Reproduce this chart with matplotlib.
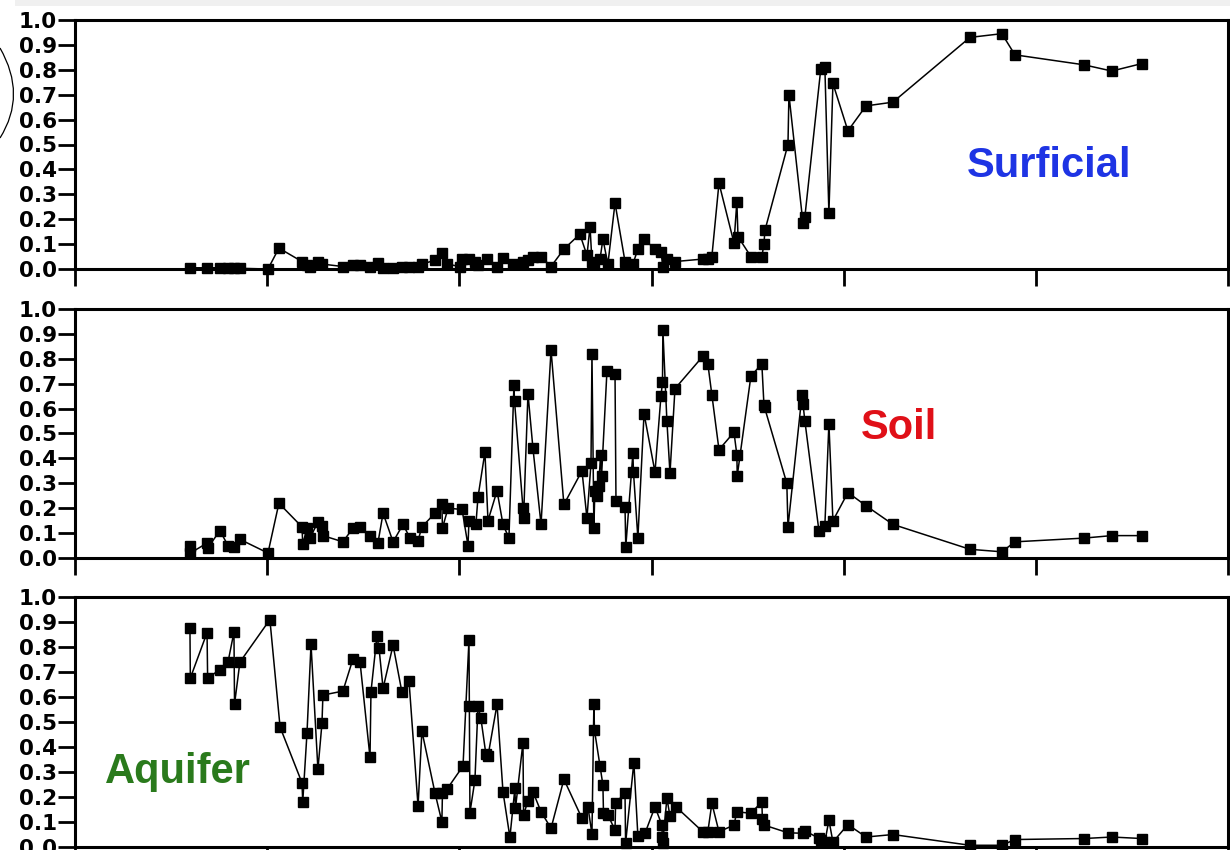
import matplotlib.pyplot as plt
from matplotlib.patches import Rectangle, PathPatch
from matplotlib.path import Path

# sample positions (x in tick units) and fractions
x_surf = [0.598, 0.687, 0.754, 0.796, 0.827, 0.858, 1.004, 1.061, 1.181, 1.207,
          1.223, 1.264, 1.285, 1.394, 1.446, 1.483, 1.535, 1.576, 1.603, 1.655,
          1.701, 1.738, 1.785, 1.805, 1.873, 1.909, 1.935, 2.003, 2.014, 2.050,
          2.081, 2.097, 2.144, 2.196, 2.227, 2.279, 2.331, 2.357, 2.383, 2.425,
          2.477, 2.544, 2.627, 2.664, 2.680, 2.690, 2.700, 2.732, 2.747, 2.773,
          2.810, 2.862, 2.903, 2.929, 2.961, 3.018, 3.049, 3.059, 3.080, 3.122,
          3.267, 3.293, 3.314, 3.351, 3.429, 3.444, 3.450, 3.517, 3.574, 3.585,
          3.590, 3.710, 3.715, 3.788, 3.798, 3.881, 3.902, 3.923, 3.944, 4.022,
          4.116, 4.256, 4.657, 4.823, 4.891, 5.250, 5.395, 5.552]
y_surf = [0.005, 0.005, 0.005, 0.005, 0.003, 0.003, 0.0, 0.084, 0.03, 0.015,
          0.01, 0.03, 0.02, 0.01, 0.015, 0.015, 0.01, 0.025, 0.005, 0.005,
          0.01, 0.01, 0.01, 0.02, 0.035, 0.065, 0.02, 0.01, 0.04, 0.04,
          0.03, 0.015, 0.04, 0.01, 0.045, 0.02, 0.03, 0.035, 0.05, 0.05,
          0.01, 0.08, 0.14, 0.055, 0.17, 0.03, 0.02, 0.04, 0.12, 0.02,
          0.265, 0.03, 0.02, 0.08, 0.12, 0.08, 0.07, 0.01, 0.04, 0.03,
          0.04, 0.04, 0.05, 0.345, 0.105, 0.27, 0.13, 0.05, 0.05, 0.10,
          0.155, 0.50, 0.70, 0.185, 0.21, 0.805, 0.81, 0.225, 0.745, 0.555,
          0.655, 0.67, 0.93, 0.945, 0.86, 0.82, 0.795, 0.825]

x_soil = [0.598, 0.600, 0.687, 0.690, 0.754, 0.796, 0.827, 0.858, 1.004, 1.061,
          1.181, 1.185, 1.207, 1.223, 1.264, 1.285, 1.290, 1.394, 1.446, 1.483,
          1.535, 1.576, 1.603, 1.655, 1.707, 1.743, 1.785, 1.805, 1.873, 1.909,
          1.912, 1.941, 2.014, 2.045, 2.050, 2.086, 2.097, 2.133, 2.149, 2.196,
          2.227, 2.258, 2.284, 2.287, 2.331, 2.334, 2.357, 2.383, 2.425, 2.477,
          2.544, 2.638, 2.664, 2.685, 2.690, 2.700, 2.705, 2.715, 2.725, 2.735,
          2.740, 2.768, 2.810, 2.815, 2.862, 2.866, 2.903, 2.906, 2.929, 2.961,
          3.018, 3.049, 3.057, 3.059, 3.080, 3.096, 3.122, 3.267, 3.293, 3.314,
          3.351, 3.429, 3.444, 3.446, 3.517, 3.574, 3.585, 3.588, 3.704, 3.710,
          3.783, 3.788, 3.798, 3.871, 3.902, 3.923, 3.944, 4.022, 4.116, 4.256,
          4.657, 4.823, 4.891, 5.250, 5.395, 5.552]
y_soil = [0.05, 0.02, 0.06, 0.04, 0.11, 0.05, 0.045, 0.075, 0.02, 0.22,
          0.125, 0.055, 0.12, 0.08, 0.145, 0.13, 0.09, 0.065, 0.12, 0.125,
          0.09, 0.06, 0.18, 0.065, 0.135, 0.08, 0.07, 0.125, 0.18, 0.215,
          0.12, 0.20, 0.195, 0.05, 0.15, 0.135, 0.245, 0.425, 0.15, 0.27,
          0.135, 0.08, 0.695, 0.63, 0.20, 0.16, 0.66, 0.44, 0.135, 0.835,
          0.215, 0.35, 0.16, 0.38, 0.82, 0.12, 0.27, 0.25, 0.29, 0.415,
          0.33, 0.75, 0.74, 0.23, 0.205, 0.045, 0.42, 0.345, 0.08, 0.58,
          0.345, 0.65, 0.705, 0.917, 0.55, 0.34, 0.68, 0.81, 0.78, 0.655,
          0.435, 0.505, 0.415, 0.33, 0.73, 0.78, 0.615, 0.605, 0.30, 0.125,
          0.655, 0.62, 0.55, 0.11, 0.13, 0.54, 0.15, 0.263, 0.21, 0.135,
          0.035, 0.025, 0.065, 0.08, 0.09, 0.09]

x_aq = [0.598, 0.600, 0.687, 0.690, 0.754, 0.796, 0.827, 0.830, 0.858, 1.014,
        1.067, 1.181, 1.185, 1.207, 1.228, 1.264, 1.285, 1.290, 1.394, 1.446,
        1.483, 1.535, 1.540, 1.571, 1.582, 1.603, 1.655, 1.701, 1.738, 1.785,
        1.805, 1.873, 1.909, 1.912, 1.935, 2.019, 2.050, 2.052, 2.055, 2.081,
        2.097, 2.112, 2.138, 2.149, 2.196, 2.227, 2.263, 2.289, 2.292, 2.331,
        2.334, 2.357, 2.383, 2.425, 2.477, 2.544, 2.638, 2.669, 2.690, 2.700,
        2.703, 2.732, 2.747, 2.750, 2.773, 2.810, 2.813, 2.862, 2.865, 2.908,
        2.929, 2.966, 3.018, 3.054, 3.056, 3.058, 3.080, 3.096, 3.127, 3.267,
        3.293, 3.314, 3.351, 3.429, 3.444, 3.517, 3.574, 3.577, 3.585, 3.710,
        3.788, 3.798, 3.871, 3.881, 3.902, 3.923, 3.944, 4.022, 4.116, 4.256,
        4.657, 4.823, 4.891, 5.250, 5.395, 5.552]
y_aq = [0.877, 0.676, 0.858, 0.676, 0.71, 0.74, 0.86, 0.572, 0.74, 0.91,
        0.48, 0.257, 0.181, 0.455, 0.811, 0.311, 0.495, 0.608, 0.624, 0.752,
        0.741, 0.359, 0.621, 0.844, 0.795, 0.635, 0.808, 0.62, 0.664, 0.164,
        0.464, 0.217, 0.101, 0.217, 0.231, 0.324, 0.828, 0.564, 0.138, 0.268,
        0.564, 0.515, 0.372, 0.364, 0.571, 0.221, 0.039, 0.235, 0.155, 0.418,
        0.128, 0.185, 0.221, 0.141, 0.075, 0.271, 0.115, 0.161, 0.052, 0.572,
        0.468, 0.324, 0.248, 0.135, 0.128, 0.068, 0.175, 0.217, 0.015, 0.338,
        0.044, 0.055, 0.161, 0.088, 0.041, 0.015, 0.195, 0.124, 0.161, 0.061,
        0.061, 0.175, 0.061, 0.088, 0.141, 0.135, 0.181, 0.111, 0.088, 0.057,
        0.055, 0.065, 0.035, 0.028, 0.02, 0.108, 0.02, 0.09, 0.04, 0.05,
        0.007, 0.007, 0.03, 0.034, 0.04, 0.034]

panels = [
    (x_surf, y_surf, "Surficial", "#1e34e4", 4.64, 0.37, [0.061, 0.6835, 0.9374, 0.293]),
    (x_soil, y_soil, "Soil", "#e01018", 4.09, 0.476, [0.061, 0.3435, 0.9374, 0.293]),
    (x_aq, y_aq, "Aquifer", "#2a7a1c", 0.156, 0.256, [0.061, 0.0035, 0.9374, 0.294]),
]

fig = plt.figure(figsize=(12.3, 8.5), dpi=100)
# screenshot strip at the very top
fig.add_artist(Rectangle((0.012, 1 - 6 / 850), 0.988, 6 / 850, transform=fig.transFigure,
                         facecolor="#f0f0f0", edgecolor="none"))
# hand-drawn bracket at the far left
verts = [(0.0, 1 - 48 / 850), (0.022, 1 - 95 / 850), (0.0, 1 - 138 / 850)]
fig.add_artist(PathPatch(Path(verts, [Path.MOVETO, Path.CURVE3, Path.CURVE3]),
                         transform=fig.transFigure, fill=False, lw=0.9, edgecolor="black"))

for xs, ys, name, col, tx, ty, rect in panels:
    ax = fig.add_axes(rect)
    ax.plot(xs, ys, color="black", lw=1.1, marker="s", markersize=7.5,
            markerfacecolor="black", markeredgecolor="black", clip_on=False, zorder=3)
    ax.set_xlim(0, 6)
    ax.set_ylim(0, 1)
    ax.set_xticks(range(7))
    ax.set_xticklabels([])
    ax.set_yticks([i / 10 for i in range(11)])
    ax.set_yticklabels([f"{i / 10:.1f}" for i in range(11)])
    ax.tick_params(axis="y", direction="out", length=12, width=2, pad=1, labelsize=15.5)
    ax.tick_params(axis="x", direction="out", length=12, width=2)
    for lab in ax.get_yticklabels():
        lab.set_fontweight("bold")
        lab.set_family("DejaVu Sans")
    for sp in ax.spines.values():
        sp.set_linewidth(2.2)
    ax.text(tx, ty, name, color=col, fontsize=30, fontweight="bold",
            family="Liberation Sans", ha="left", va="baseline")

fig.savefig("out.png", dpi=100)
